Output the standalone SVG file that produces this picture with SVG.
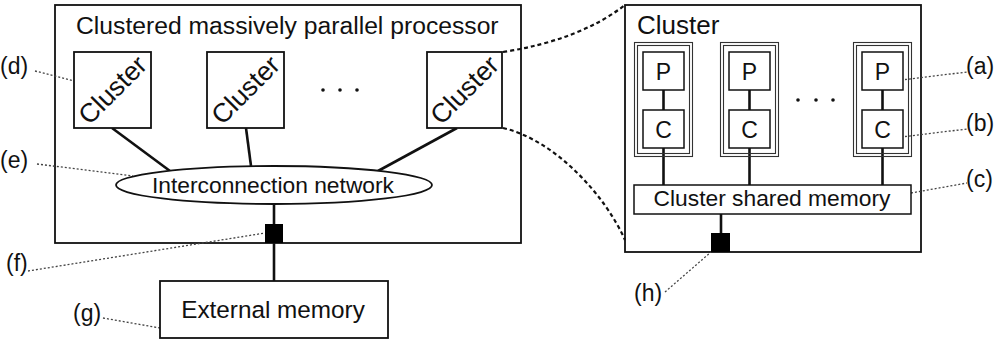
<svg xmlns="http://www.w3.org/2000/svg" width="994" height="340" viewBox="0 0 994 340">
<style>
text{font-family:"Liberation Sans",Arial,sans-serif;fill:#111}
.box{fill:#fff;stroke:#111;stroke-width:1.8}
.grp{fill:none;stroke:#333;stroke-width:1.1}
.pc{fill:#fff;stroke:#111;stroke-width:1.5}
.wire{stroke:#111;stroke-width:2.6;fill:none}
.lbl{stroke:#444;stroke-width:1.3;stroke-dasharray:2 2;fill:none}
.zoom{stroke:#111;stroke-width:2.2;stroke-dasharray:4 3;fill:none}
.port{fill:#000}
.lab{font-size:23px}
.rot{font-size:26.5px;text-anchor:middle}
.pcl{font-size:23px;text-anchor:middle}
</style>
<g id="mpp">
<rect class="box" x="55" y="5" width="466" height="238"/>
<text x="76" y="34" font-size="24.7">Clustered massively parallel processor</text>
</g>
<g id="cluster-detail">
<rect class="box" x="625" y="5" width="296" height="247"/>
<text x="637" y="34" font-size="26">Cluster</text>
</g>
<g id="connectors">
<line class="wire" x1="112" y1="128" x2="170" y2="171"/>
<line class="wire" x1="246" y1="128" x2="251" y2="166"/>
<line class="wire" x1="457" y1="128" x2="378" y2="171"/>
<line class="wire" x1="274" y1="204" x2="274" y2="281"/>
<line class="wire" x1="663.5" y1="90" x2="663.5" y2="110"/>
<line class="wire" x1="663.5" y1="148" x2="663.5" y2="185"/>
<line class="wire" x1="749.5" y1="90" x2="749.5" y2="110"/>
<line class="wire" x1="749.5" y1="148" x2="749.5" y2="185"/>
<line class="wire" x1="882.5" y1="90" x2="882.5" y2="110"/>
<line class="wire" x1="882.5" y1="148" x2="882.5" y2="185"/>
<line class="wire" x1="721" y1="214" x2="721" y2="234"/>
<path class="zoom" d="M503,52 Q580,40 625,5"/>
<path class="zoom" d="M503,128 C555,140 605,195 625,240"/>
<line class="lbl" x1="35" y1="71" x2="74" y2="81"/>
<line class="lbl" x1="37" y1="164" x2="133" y2="176"/>
<line class="lbl" x1="28" y1="271" x2="265" y2="233"/>
<line class="lbl" x1="103" y1="318" x2="160" y2="328"/>
<line class="lbl" x1="901" y1="80" x2="967" y2="72"/>
<line class="lbl" x1="901" y1="137" x2="967" y2="129"/>
<line class="lbl" x1="911" y1="193" x2="967" y2="183"/>
<line class="lbl" x1="665" y1="292" x2="711" y2="252"/>
</g>
<g id="cluster1">
<rect class="box" x="74" y="52" width="77" height="76"/>
<text class="rot" x="0" y="9" transform="translate(112.5,90) rotate(-45)">Cluster</text>
</g>
<g id="cluster2">
<rect class="box" x="207" y="52" width="77" height="76"/>
<text class="rot" x="0" y="9" transform="translate(245.5,90) rotate(-45)">Cluster</text>
</g>
<g id="cluster3">
<rect class="box" x="427" y="52" width="75" height="76"/>
<text class="rot" x="0" y="9" transform="translate(464.5,90) rotate(-45)">Cluster</text>
</g>
<g id="dots-left">
<circle cx="323" cy="90" r="1.8" fill="#111"/>
<circle cx="340" cy="90" r="1.8" fill="#111"/>
<circle cx="357" cy="90" r="1.8" fill="#111"/>
</g>
<g id="network">
<ellipse class="box" cx="274" cy="185" rx="158" ry="19"/>
<text x="273" y="193" font-size="22.8" text-anchor="middle">Interconnection network</text>
</g>
<g id="port-f">
<rect class="port" x="265" y="224" width="18" height="19"/>
</g>
<g id="external-memory">
<rect class="box" x="160" y="281" width="228" height="57"/>
<text x="273" y="318" font-size="24.3" text-anchor="middle">External memory</text>
</g>
<g id="proc1">
<rect class="grp" x="634.5" y="42.5" width="58" height="114"/>
<rect class="grp" x="637.5" y="45.5" width="52" height="108"/>
<rect class="pc" x="643" y="52" width="41" height="38"/>
<text class="pcl" x="663.5" y="80">P</text>
<rect class="pc" x="643" y="110" width="41" height="38"/>
<text class="pcl" x="663.5" y="137.5">C</text>
</g>
<g id="proc2">
<rect class="grp" x="720.5" y="42.5" width="58" height="114"/>
<rect class="grp" x="723.5" y="45.5" width="52" height="108"/>
<rect class="pc" x="729" y="52" width="41" height="38"/>
<text class="pcl" x="749.5" y="80">P</text>
<rect class="pc" x="729" y="110" width="41" height="38"/>
<text class="pcl" x="749.5" y="137.5">C</text>
</g>
<g id="proc3">
<rect class="grp" x="853.5" y="42.5" width="58" height="114"/>
<rect class="grp" x="856.5" y="45.5" width="52" height="108"/>
<rect class="pc" x="862" y="52" width="41" height="38"/>
<text class="pcl" x="882.5" y="80">P</text>
<rect class="pc" x="862" y="110" width="41" height="38"/>
<text class="pcl" x="882.5" y="137.5">C</text>
</g>
<g id="dots-right">
<circle cx="798" cy="100" r="1.8" fill="#111"/>
<circle cx="816" cy="100" r="1.8" fill="#111"/>
<circle cx="833" cy="100" r="1.8" fill="#111"/>
</g>
<g id="shared-memory">
<rect class="pc" x="634" y="185" width="277" height="29"/>
<text x="772" y="206" font-size="22.8" text-anchor="middle">Cluster shared memory</text>
</g>
<g id="port-h">
<rect class="port" x="711" y="233" width="19" height="19"/>
</g>
<g id="labels">
<text class="lab" x="0" y="74">(d)</text>
<text class="lab" x="0" y="168">(e)</text>
<text class="lab" x="6" y="271">(f)</text>
<text class="lab" x="73" y="321">(g)</text>
<text class="lab" x="966" y="74">(a)</text>
<text class="lab" x="966" y="131">(b)</text>
<text class="lab" x="966" y="187">(c)</text>
<text class="lab" x="634" y="301">(h)</text>
</g>
</svg>
